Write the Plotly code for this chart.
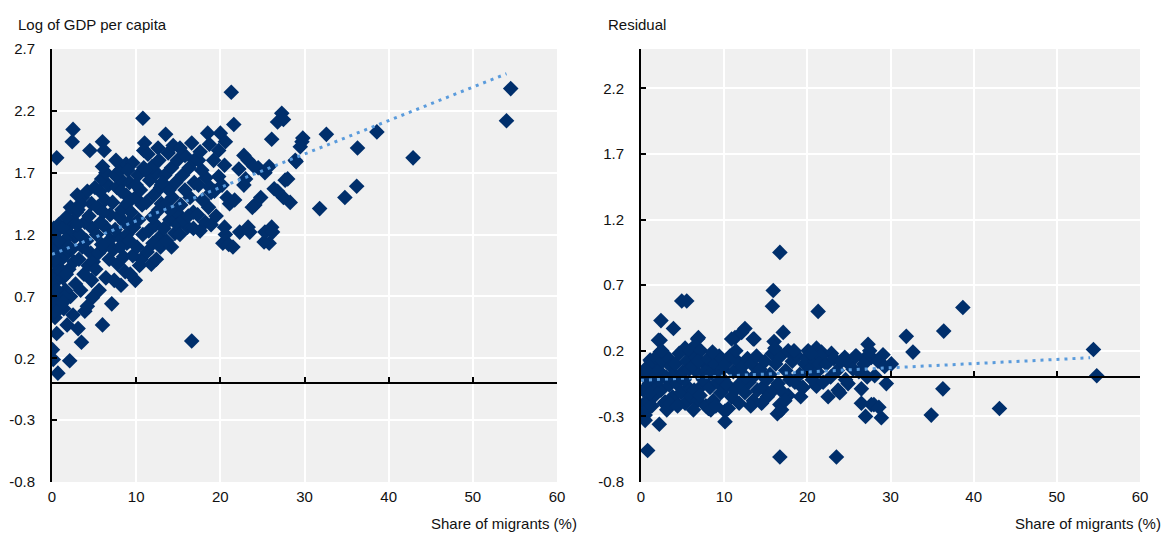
import plotly.graph_objects as go

# ---------------- Left panel: Log of GDP per capita vs share of migrants ----------------
left_x = [
    0.7, 0.15, 0.05, 0.56, 0.36, 0.2, 0.5, 0.3, 0.8, 0.1, 0.6, 0.25, 0.9, 0.4, 0.15, 0.7, 0.3, 0.9, 0.05, 0.5, 0.2, 0.8, 1.0, 1.1, 0.56,
    2.1, 1.8, 2.5, 1.4, 2.2, 1.6, 2.8, 1.3, 2.0, 2.6, 1.5, 2.3, 1.2, 2.7, 1.9, 1.4, 2.4, 1.7, 2.9, 2.2, 3.0, 2.5, 2.4, 1.1, 1.6,
    3.5, 3.1, 3.9, 4.8, 4.2, 3.4, 4.7, 3.8, 4.3, 3.2, 4.6, 3.6, 4.1, 3.3, 4.8, 3.9, 4.4, 3.1, 4.7, 3.6, 4.2, 4.5, 3.0, 3.4, 4.9, 3.0,
    6.0, 7.1, 5.6, 6.4, 5.2, 6.8, 5.5, 6.2, 6.9, 5.3, 6.5, 5.8, 6.9, 5.4, 6.3, 5.7, 6.7, 5.9, 6.4, 6.0, 6.2, 6.0, 5.1, 6.1, 5.9,
    8.2, 7.4, 8.7, 7.8, 8.5, 7.3, 8.9, 8.0, 7.5, 8.6, 7.9, 8.3, 7.2, 8.8, 7.7, 8.4, 7.5, 8.1, 8.8, 7.6, 8.9, 8.2, 8.1, 8.9,
    9.9, 9.3, 10.4, 10.6, 9.6, 10.1, 9.2, 10.8, 9.7, 10.3, 9.4, 10.7, 9.9, 10.5, 9.2, 10.2, 10.9, 9.6, 9.0, 10.8, 11.0, 10.9, 9.1, 10.0,
    11.8, 12.4, 11.3, 12.0, 12.8, 11.5, 12.3, 11.9, 12.7, 11.2, 12.1, 12.9, 11.6, 12.4, 11.9, 12.7, 11.4, 12.6, 13.5, 13.0, 13.0, 12.9, 11.1,
    14.2, 14.6, 13.6, 13.3, 14.0, 14.8, 13.5, 14.3, 13.9, 14.7, 13.4, 14.2, 14.9, 13.8, 14.4, 13.1, 14.0, 14.9,
    16.6, 15.2, 16.1, 15.6, 16.8, 15.3, 16.4, 15.8, 16.9, 15.5, 16.3, 16.9, 15.8, 16.6, 15.2, 16.8, 16.2,
    17.6, 18.2, 17.3, 18.6, 17.9, 18.9, 17.4, 18.3, 17.8, 17.4, 17.6, 18.7, 18.5, 18.8, 18.9,
    20.3, 20.6, 20.5, 21.0, 21.1, 20.8, 19.8, 20.5, 19.8, 20.0, 19.5, 19.3, 20.6, 20.2, 19.2,
    21.3, 21.6, 22.2, 22.8, 23.3, 24.5, 24.1, 23.3, 22.3, 22.8, 21.7, 23.8, 24.0, 25.8, 25.2, 25.3, 23.5, 21.5, 23.0, 24.8,
    26.1, 27.3, 26.8, 27.5, 28.9, 29.7, 26.4, 27.7, 28.3, 27.5, 26.1, 26.2, 26.8, 28.0, 29.8, 29.5, 29.0, 25.3, 25.8,
    32.6, 31.8, 36.3, 36.2, 34.8, 38.6, 42.9, 54.5, 54.0,
    0.3, 0.6, 0.9, 1.2, 1.5, 0.4, 0.8, 1.3, 2.0, 1.7,
]
left_y = [
    0.08, 0.19, 0.27, 0.40, 0.53, 0.57, 0.62, 0.68, 0.72, 0.78, 0.83, 0.88, 0.93, 0.97, 1.02, 1.06, 1.10, 1.14, 1.18, 1.22, 1.25, 1.28, 0.65, 0.90, 1.82,
    0.18, 0.47, 0.55, 0.60, 0.70, 0.75, 0.80, 0.85, 0.92, 0.98, 1.03, 1.08, 1.12, 1.18, 1.22, 1.26, 1.30, 1.34, 1.38, 1.42, 1.20, 2.05, 1.95, 1.00, 1.16,
    0.33, 0.44, 0.58, 0.69, 0.62, 0.75, 0.83, 0.88, 0.95, 1.00, 1.05, 1.10, 1.15, 1.20, 1.25, 1.30, 1.35, 1.40, 1.45, 1.50, 1.55, 1.88, 1.28, 1.45, 0.98, 1.52,
    0.47, 0.64, 0.75, 0.85, 0.92, 1.00, 1.05, 1.10, 1.16, 1.20, 1.25, 1.30, 1.36, 1.42, 1.48, 1.55, 1.60, 1.65, 1.70, 1.75, 1.88, 1.95, 1.58, 1.38, 1.12,
    0.79, 0.83, 0.90, 0.96, 1.02, 1.08, 1.13, 1.18, 1.24, 1.30, 1.35, 1.40, 1.46, 1.52, 1.58, 1.63, 1.68, 1.72, 1.77, 1.80, 1.20, 1.55, 1.10, 1.45,
    0.83, 0.88, 0.95, 1.00, 1.03, 1.10, 1.15, 1.20, 1.26, 1.32, 1.38, 1.44, 1.50, 1.56, 1.62, 1.68, 1.74, 1.78, 1.72, 2.14, 1.94, 1.88, 1.30, 1.60,
    0.96, 1.00, 1.06, 1.13, 1.18, 1.23, 1.28, 1.34, 1.40, 1.46, 1.52, 1.58, 1.64, 1.70, 1.75, 1.80, 1.85, 1.90, 2.01, 1.60, 1.45, 1.10, 1.72,
    1.10, 1.21, 1.15, 1.25, 1.32, 1.38, 1.44, 1.50, 1.56, 1.62, 1.68, 1.74, 1.80, 1.86, 1.92, 1.62, 1.40, 1.28,
    0.34, 1.20, 1.26, 1.32, 1.38, 1.44, 1.50, 1.56, 1.62, 1.68, 1.74, 1.80, 1.84, 1.94, 1.90, 1.25, 1.35,
    1.23, 1.30, 1.36, 1.42, 1.48, 1.54, 1.60, 1.66, 1.72, 1.80, 1.87, 1.93, 2.02, 1.58, 1.28,
    1.13, 1.20, 1.26, 1.12, 1.45, 1.50, 1.67, 1.76, 1.88, 2.02, 1.35, 1.55, 1.95, 1.60, 1.80,
    2.35, 2.09, 1.73, 1.84, 1.80, 1.74, 1.44, 1.26, 1.22, 1.60, 1.48, 1.42, 1.75, 1.13, 1.14, 1.22, 1.22, 1.10, 1.65, 1.50,
    1.97, 2.18, 2.11, 2.13, 1.80, 1.95, 1.57, 1.64, 1.46, 1.50, 1.26, 1.22, 1.55, 1.65, 1.98, 1.91, 1.79, 1.70, 1.75,
    2.01, 1.41, 1.90, 1.59, 1.50, 2.03, 1.82, 2.38, 2.12,
    0.58, 0.75, 0.60, 0.90, 0.70, 1.00, 1.15, 0.65, 1.10, 0.88,
]
left_trend_x = [0, 54]
left_trend_y = [1.04, 2.50]

# ---------------- Right panel: residual vs share of migrants ----------------
right_x = [
    16.7, 15.9, 15.8, 4.9, 5.5, 21.3, 2.4, 3.9, 2.3, 11.3, 12.1, 13.6, 17.1, 16.0, 27.3, 6.8, 0.8, 16.7, 23.5, 0.5, 0.5, 2.2, 10.1,
    27.7, 28.9, 29.5, 26.5, 23.9, 28.1, 29.1, 30.1, 16.7, 17.7, 21.1, 38.7, 36.4, 31.9, 32.7, 54.4, 54.8, 36.3, 34.9, 43.1, 28.0, 28.6, 27.7,
    2.1, 2.3, 1.1, 1.9, 12.5, 10.9, 10.1, 8.1, 4.1, 2.9, 0.9, 6.9, 6.5, 5.3, 13.5, 21.1, 20.1, 21.7, 22.9, 24.5, 25.9, 26.9, 19.5, 21.1, 23.7,
    0.3, 0.5, 0.4, 0.8, 1.0, 1.2, 1.5, 1.7, 1.9, 0.7, 1.3, 1.8, 0.6, 1.1,
    2.1, 2.4, 2.6, 2.8, 3.0, 3.2, 3.4, 3.6, 3.8, 2.5, 3.1, 3.9, 2.2, 3.5,
    4.1, 4.3, 4.6, 4.8, 5.0, 5.3, 5.5, 5.7, 5.9, 4.4, 5.2, 5.8, 4.7, 6.0,
    6.2, 6.4, 6.6, 6.8, 7.0, 7.2, 7.4, 7.6, 7.8, 6.3, 7.1, 7.9, 6.9, 7.5,
    8.1, 8.3, 8.5, 8.7, 8.9, 9.2, 9.4, 9.6, 9.8, 8.4, 9.0, 9.9, 8.6, 9.3,
    10.2, 10.4, 10.7, 10.9, 11.1, 11.3, 11.6, 11.8, 12.0, 10.5, 11.4, 11.9,
    12.2, 12.5, 12.8, 13.0, 13.3, 13.5, 13.8, 14.0, 12.6, 13.2, 13.9,
    14.3, 14.6, 14.9, 15.2, 15.5, 15.8, 14.5, 15.1, 15.9, 14.8,
    16.2, 16.5, 16.8, 17.1, 17.4, 17.7, 17.9, 16.4, 16.9, 17.3, 16.1,
    18.2, 18.5, 18.8, 19.1, 19.4, 19.7, 18.4, 19.2, 19.9,
    20.3, 20.6, 20.9, 21.2, 21.6, 21.9, 20.4, 21.4,
    22.3, 22.8, 23.2, 23.6, 24.1, 24.6, 25.0, 25.5, 25.8, 22.5, 24.9,
    26.2, 26.8, 27.2, 28.5, 29.3, 26.5, 27.0, 27.5,
]
right_y = [
    0.95, 0.66, 0.54, 0.58, 0.58, 0.50, 0.43, 0.37, 0.28, 0.30, 0.34, 0.29, 0.34, 0.27, 0.25, 0.29, -0.56, -0.61, -0.61, -0.29, -0.33, -0.36, -0.34,
    -0.21, -0.31, -0.05, -0.09, -0.12, 0.01, 0.17, 0.10, -0.21, -0.14, -0.06, 0.53, 0.35, 0.31, 0.19, 0.21, 0.01, -0.09, -0.29, -0.24, -0.21, -0.23, 0.15,
    0.28, 0.19, 0.13, 0.06, 0.37, 0.29, -0.26, -0.24, -0.19, -0.19, -0.18, 0.30, 0.24, 0.22, 0.29, 0.22, 0.20, 0.19, 0.18, 0.15, 0.16, 0.14, -0.08, -0.07, -0.10,
    -0.10, 0.00, -0.20, 0.08, -0.05, 0.12, -0.15, 0.02, -0.08, -0.25, -0.22, 0.15, 0.05, -0.12,
    0.05, -0.10, 0.12, -0.20, 0.00, 0.15, -0.06, 0.08, -0.15, 0.20, -0.25, 0.02, -0.02, -0.20,
    0.10, -0.05, 0.18, -0.12, 0.04, -0.20, 0.12, -0.08, 0.20, -0.22, -0.02, 0.06, 0.00, -0.15,
    0.08, -0.10, 0.15, -0.18, 0.02, 0.20, -0.06, 0.10, -0.22, -0.25, -0.14, 0.05, 0.12, -0.02,
    0.14, -0.08, 0.03, -0.18, 0.10, -0.04, 0.16, -0.12, 0.06, -0.25, -0.22, -0.02, 0.19, 0.00,
    0.10, -0.06, 0.16, -0.15, 0.04, -0.10, 0.12, -0.20, 0.02, -0.24, 0.20, -0.05,
    0.08, -0.12, 0.14, -0.04, 0.10, -0.18, 0.02, -0.10, 0.00, -0.22, 0.16,
    0.06, -0.08, 0.12, -0.15, 0.02, 0.18, -0.20, -0.02, -0.10, 0.00,
    0.10, -0.05, 0.16, -0.12, 0.05, 0.20, -0.02, -0.28, -0.25, -0.18, 0.22,
    0.12, -0.04, 0.16, 0.02, -0.08, 0.10, 0.20, -0.15, 0.14,
    0.06, -0.02, 0.12, 0.04, 0.16, -0.04, 0.18, 0.10,
    0.10, 0.00, 0.14, 0.05, 0.12, -0.02, 0.10, 0.06, 0.16, -0.15, -0.05,
    0.04, 0.10, 0.00, 0.12, 0.08, -0.20, -0.30, 0.20,
]
right_trend_x = [0, 54]
right_trend_y = [-0.025, 0.147]

# ---------------- Axis ticks and labels ----------------
x_ticks = [0, 10, 20, 30, 40, 50, 60]
left_y_ticks = [-0.8, -0.3, 0.2, 0.7, 1.2, 1.7, 2.2, 2.7]
left_y_labels = ["-0.8", "-0.3", "0.2", "0.7", "1.2", "1.7", "2.2", "2.7"]
right_y_ticks = [-0.8, -0.3, 0.2, 0.7, 1.2, 1.7, 2.2]
right_y_labels = ["-0.8", "-0.3", "0.2", "0.7", "1.2", "1.7", "2.2"]
left_y_range = [-0.8, 2.7]
right_y_range = [-0.8, 2.5]
x_range = [0, 60]

NAVY = "#002F6C"
LIGHT = "#5A9BDC"
BG = "#F0F0F0"
FONT = "Liberation Sans, Arial, sans-serif"
TXT = "#111"
MSIZE = 12

W, H = 1169, 533
ML, MR, MT, MB = 52, 29, 49, 51
PW = W - ML - MR
PH = H - MT - MB
left_dom = [0, (557 - ML) / PW]
right_dom = [(641 - ML) / PW, 1]

fig = go.Figure()
fig.add_trace(go.Scatter(x=left_x, y=left_y, mode="markers", xaxis="x", yaxis="y",
                         marker=dict(symbol="diamond", size=MSIZE, color=NAVY, line=dict(width=0)),
                         showlegend=False, hoverinfo="x+y"))
fig.add_trace(go.Scatter(x=left_trend_x, y=left_trend_y, mode="lines", xaxis="x", yaxis="y",
                         line=dict(color=LIGHT, width=3, dash="3px,5px"), showlegend=False))
fig.add_trace(go.Scatter(x=right_x, y=right_y, mode="markers", xaxis="x2", yaxis="y2",
                         marker=dict(symbol="diamond", size=MSIZE, color=NAVY, line=dict(width=0)),
                         showlegend=False, hoverinfo="x+y"))
fig.add_trace(go.Scatter(x=right_trend_x, y=right_trend_y, mode="lines", xaxis="x2", yaxis="y2",
                         line=dict(color=LIGHT, width=3, dash="3px,5px"), showlegend=False))

common_x = dict(range=x_range, tickmode="array", tickvals=x_ticks, showgrid=True, gridcolor="white",
                gridwidth=2, zeroline=False, showline=False, ticks="", tickfont=dict(size=15, color=TXT),
                ticklabelstandoff=4, fixedrange=True, automargin=False)
common_y = dict(showgrid=True, gridcolor="white", gridwidth=2, zeroline=False, showline=True,
                linecolor="black", linewidth=2, ticks="inside", ticklen=5, tickwidth=2, tickcolor="black",
                tickfont=dict(size=15, color=TXT), ticklabelstandoff=12, fixedrange=True,
                automargin=False, tickmode="array")

zero_pos_left = (0 - left_y_range[0]) / (left_y_range[1] - left_y_range[0])
zero_pos_right = (0 - right_y_range[0]) / (right_y_range[1] - right_y_range[0])
zero_axis = dict(range=x_range, tickmode="array", tickvals=x_ticks, showticklabels=False, showgrid=False,
                 zeroline=False, showline=True, linecolor="black", linewidth=2, ticks="inside",
                 ticklen=5, tickwidth=2, tickcolor="black", anchor="free", fixedrange=True, automargin=False)

fig.update_layout(
    width=W, height=H,
    margin=dict(l=ML, r=MR, t=MT, b=MB, autoexpand=False),
    paper_bgcolor="white", plot_bgcolor=BG,
    font=dict(family=FONT, size=15, color=TXT),
    xaxis=dict(domain=left_dom, anchor="y", **common_x),
    yaxis=dict(domain=[0, 1], anchor="x", range=left_y_range, tickvals=left_y_ticks,
               ticktext=left_y_labels, **common_y),
    xaxis2=dict(domain=right_dom, anchor="y2", **common_x),
    yaxis2=dict(domain=[0, 1], anchor="x2", range=right_y_range, tickvals=right_y_ticks,
                ticktext=right_y_labels, **common_y),
    xaxis3=dict(domain=left_dom, overlaying="x", position=zero_pos_left, **zero_axis),
    xaxis4=dict(domain=right_dom, overlaying="x2", position=zero_pos_right, **zero_axis),
    annotations=[
        dict(text="Log of GDP per capita", xref="paper", yref="paper", x=(16 - ML) / PW, y=(H - MB - 25) / PH,
             xanchor="left", yanchor="middle", showarrow=False, font=dict(size=15)),
        dict(text="Residual", xref="paper", yref="paper", x=(606 - ML) / PW, y=(H - MB - 25) / PH,
             xanchor="left", yanchor="middle", showarrow=False, font=dict(size=15)),
        dict(text="Share of migrants (%)", xref="paper", yref="paper", x=(579 - ML) / PW, y=(H - MB - 523) / PH,
             xanchor="right", yanchor="middle", showarrow=False, font=dict(size=15)),
        dict(text="Share of migrants (%)", xref="paper", yref="paper", x=(1163 - ML) / PW, y=(H - MB - 523) / PH,
             xanchor="right", yanchor="middle", showarrow=False, font=dict(size=15)),
    ],
)
# empty traces so the overlaid zero-line axes render
fig.add_trace(go.Scatter(x=[None], y=[None], xaxis="x3", yaxis="y", showlegend=False, hoverinfo="skip"))
fig.add_trace(go.Scatter(x=[None], y=[None], xaxis="x4", yaxis="y2", showlegend=False, hoverinfo="skip"))

fig.write_html("out.html", config={"displayModeBar": False},
               post_script="document.body.style.margin='0';document.body.style.overflow='hidden';")
